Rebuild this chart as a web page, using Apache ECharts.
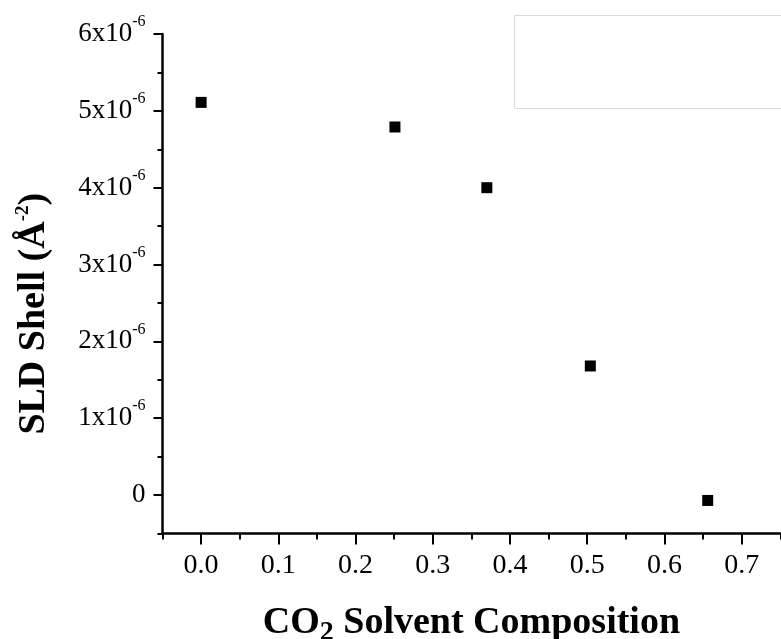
<!DOCTYPE html>
<html>
<head>
<meta charset="utf-8">
<script src="https://cdn.jsdelivr.net/npm/echarts@6/dist/echarts.min.js"></script>
<style>
  html, body { margin: 0; padding: 0; background: #fff; }
  #chart { width: 781px; height: 639px; }
</style>
</head>
<body>
<div id="chart"></div>
<script>
// Shell scattering length density vs. CO2 fraction of the solvent
const co2Fraction = [0.0, 0.251, 0.370, 0.504, 0.656];
const sldShell = [5.11e-6, 4.79e-6, 4.00e-6, 1.68e-6, -0.07e-6];

// Axis ticks and their labels
const xTickValues = [0, 0.1, 0.2, 0.3, 0.4, 0.5, 0.6, 0.7];
const xTickLabels = ['0.0', '0.1', '0.2', '0.3', '0.4', '0.5', '0.6', '0.7'];
const yTickValues = [0, 1e-6, 2e-6, 3e-6, 4e-6, 5e-6, 6e-6];
const yTickLabels = ['0', '1x10', '2x10', '3x10', '4x10', '5x10', '6x10'];
const yTickExponent = '-6';

const xRange = [-0.05, 0.75];
const yRange = [-0.5e-6, 6e-6];
const xMinorStep = 0.05;
const yMinorStep = 0.5e-6;

const serif = '"Liberation Serif", "Times New Roman", Times, serif';
const ink = '#000';

function labelIndex(values, v) {
  return values.findIndex(t => Math.abs(t - v) < 1e-12);
}

const gridBox = { left: 162.5, right: 0.7, top: 34, bottom: 105.5, containLabel: false, outerBoundsMode: 'none' };

const chart = echarts.init(document.getElementById('chart'), null, { renderer: 'canvas' });

chart.setOption({
  animation: false,
  backgroundColor: '#fff',
  grid: [
    Object.assign({}, gridBox),
    Object.assign({}, gridBox)
  ],
  xAxis: [
    {
      // main axis: line and minor ticks
      gridIndex: 0, type: 'value', position: 'bottom',
      min: xRange[0], max: xRange[1], interval: xMinorStep,
      axisLine: { show: true, onZero: false, lineStyle: { color: ink, width: 2.5 } },
      axisTick: { show: true, length: 6, lineStyle: { color: ink, width: 2 } },
      axisLabel: { show: false },
      splitLine: { show: false },
      name: 'CO{sub|2} Solvent Composition',
      nameLocation: 'middle',
      nameGap: 67,
      nameTextStyle: {
        fontFamily: serif, fontSize: 38, fontWeight: 'bold', color: ink,
        lineHeight: 46,
        rich: {
          sub: { fontFamily: serif, fontSize: 28, fontWeight: 'bold', color: ink, lineHeight: 26, verticalAlign: 'bottom' }
        }
      }
    },
    {
      // major ticks with labels
      gridIndex: 1, type: 'value', position: 'bottom',
      min: xRange[0], max: xRange[1],
      axisLine: { show: false, onZero: false },
      axisTick: { show: true, length: 11, customValues: xTickValues, lineStyle: { color: ink, width: 2 } },
      axisLabel: {
        show: true, customValues: xTickValues, margin: 18,
        fontFamily: serif, fontSize: 28, color: ink,
        formatter: v => xTickLabels[labelIndex(xTickValues, v)]
      },
      splitLine: { show: false }
    }
  ],
  yAxis: [
    {
      gridIndex: 0, type: 'value', position: 'left',
      min: yRange[0], max: yRange[1], interval: yMinorStep,
      axisLine: { show: true, onZero: false, lineStyle: { color: ink, width: 2.5 } },
      axisTick: { show: true, length: 5, lineStyle: { color: ink, width: 2 } },
      axisLabel: { show: false },
      splitLine: { show: false },
      name: 'SLD Shell (Å{sup|-2})',
      nameLocation: 'middle',
      nameGap: 107,
      nameTextStyle: {
        fontFamily: serif, fontSize: 38, fontWeight: 'bold', color: ink,
        lineHeight: 42,
        padding: [0, 60, 0, 0],
        rich: {
          sup: { fontFamily: serif, fontSize: 19, fontWeight: 'bold', color: ink, lineHeight: 19, verticalAlign: 'top' }
        }
      }
    },
    {
      gridIndex: 1, type: 'value', position: 'left',
      min: yRange[0], max: yRange[1],
      axisLine: { show: false, onZero: false },
      axisTick: { show: true, length: 9, customValues: yTickValues, lineStyle: { color: ink, width: 2 } },
      axisLabel: {
        show: true, customValues: yTickValues, margin: 17,
        fontFamily: serif, fontSize: 27, color: ink,
        formatter: v => {
          const i = labelIndex(yTickValues, v);
          if (i < 0) return '';
          if (yTickValues[i] === 0) return '{b|' + yTickLabels[i] + '}';
          return '{b|' + yTickLabels[i] + '}{s|' + yTickExponent + '}';
        },
        rich: {
          b: { fontFamily: serif, fontSize: 27, color: ink, lineHeight: 40 },
          s: { fontFamily: serif, fontSize: 16, color: ink, lineHeight: 16, verticalAlign: 'top' }
        }
      },
      splitLine: { show: false }
    }
  ],
  series: [
    {
      type: 'scatter',
      xAxisIndex: 0, yAxisIndex: 0,
      symbol: 'rect',
      symbolSize: 11,
      itemStyle: { color: ink, opacity: 1 },
      data: co2Fraction.map((x, i) => [x, sldShell[i]])
    }
  ],
  graphic: [
    {
      // empty legend frame in the upper right
      type: 'rect',
      shape: { x: 514.5, y: 15.5, width: 300, height: 93 },
      style: { fill: '#fff', stroke: '#dadada', lineWidth: 1 },
      z: 1
    }
  ]
});
</script>
</body>
</html>
